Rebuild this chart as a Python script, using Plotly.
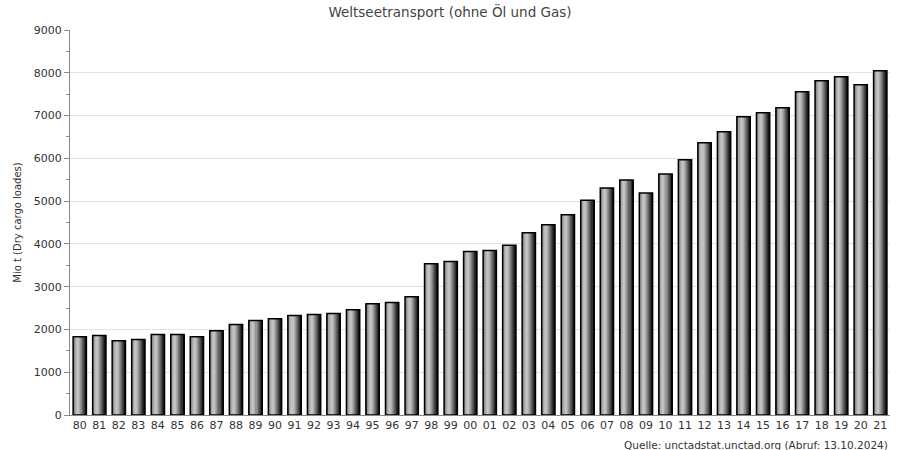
import plotly.graph_objects as go

years = ["80","81","82","83","84","85","86","87","88","89","90","91","92","93","94","95","96","97","98","99",
         "00","01","02","03","04","05","06","07","08","09","10","11","12","13","14","15","16","17","18","19","20","21"]
values = [1830,1860,1737,1767,1884,1884,1830,1970,2116,2209,2249,2326,2349,2370,2460,2600,2630,2766,3537,3591,
          3825,3848,3970,4259,4446,4680,5023,5304,5491,5187,5633,5967,6364,6621,6972,7065,7182,7556,7813,7907,7720,8047]

title_text = "Weltseetransport (ohne Öl und Gas)"
y_title = "Mio t (Dry cargo loades)"
source_text = "Quelle: unctadstat.unctad.org (Abruf: 13.10.2024)"

# horizontal "cylinder" shading of the bars, left to right
strip_colors = ["#767676","#8e8e8e","#a6a6a6","#b9b9b9","#c4c4c4","#bfbfbf","#adadad",
                "#969696","#7e7e7e","#646464","#4a4a4a","#303030","#181818"]

W = 0.68
n = len(strip_colors)
sw = W / n

fig = go.Figure()
for i, c in enumerate(strip_colors):
    fig.add_trace(go.Bar(
        x=years, y=values, width=sw * 1.25, offset=-W / 2 + i * sw,
        marker=dict(color=c, line=dict(width=0)),
        hoverinfo="skip", showlegend=False,
    ))
fig.add_trace(go.Bar(
    x=years, y=values, width=W, offset=-W / 2,
    marker=dict(color="rgba(0,0,0,0)", line=dict(color="#000000", width=1.5)),
    showlegend=False,
))

fig.update_layout(
    width=900, height=450,
    barmode="overlay",
    paper_bgcolor="white", plot_bgcolor="white",
    margin=dict(l=70, r=10, t=30, b=35),
    font=dict(family="DejaVu Sans", size=11, color="#333333"),
    title=dict(text=title_text, x=0.5, xref="container", xanchor="center",
               y=0.972, yref="container", yanchor="middle",
               font=dict(size=13.5, color="#444444")),
    showlegend=False,
)
fig.update_xaxes(
    type="category", showline=True, linecolor="#888888", linewidth=1,
    ticks="", showgrid=False, tickfont=dict(size=11, color="#333333"),
    range=[-0.5, len(years) - 0.5],
)
fig.update_yaxes(
    range=[0, 9000], dtick=1000, tick0=0,
    showline=True, linecolor="#888888", linewidth=1,
    ticks="outside", ticklen=5, tickcolor="#888888",
    minor=dict(dtick=500, ticks="outside", ticklen=3, tickcolor="#888888", showgrid=False),
    showgrid=True, gridcolor="#e3e3e3", gridwidth=1,
    zeroline=False,
    tickfont=dict(size=11, color="#333333"),
    title=dict(text=y_title, font=dict(size=10, color="#333333"), standoff=10),
)
fig.add_annotation(
    text=source_text, xref="paper", yref="paper", x=1.0, y=0, xanchor="right", yanchor="middle",
    yshift=-30, showarrow=False, font=dict(size=10.5, color="#333333"),
)

fig.write_html("out.html", config={"displayModeBar": False},
               post_script="document.body.style.margin='0px';document.body.style.overflow='hidden';")
